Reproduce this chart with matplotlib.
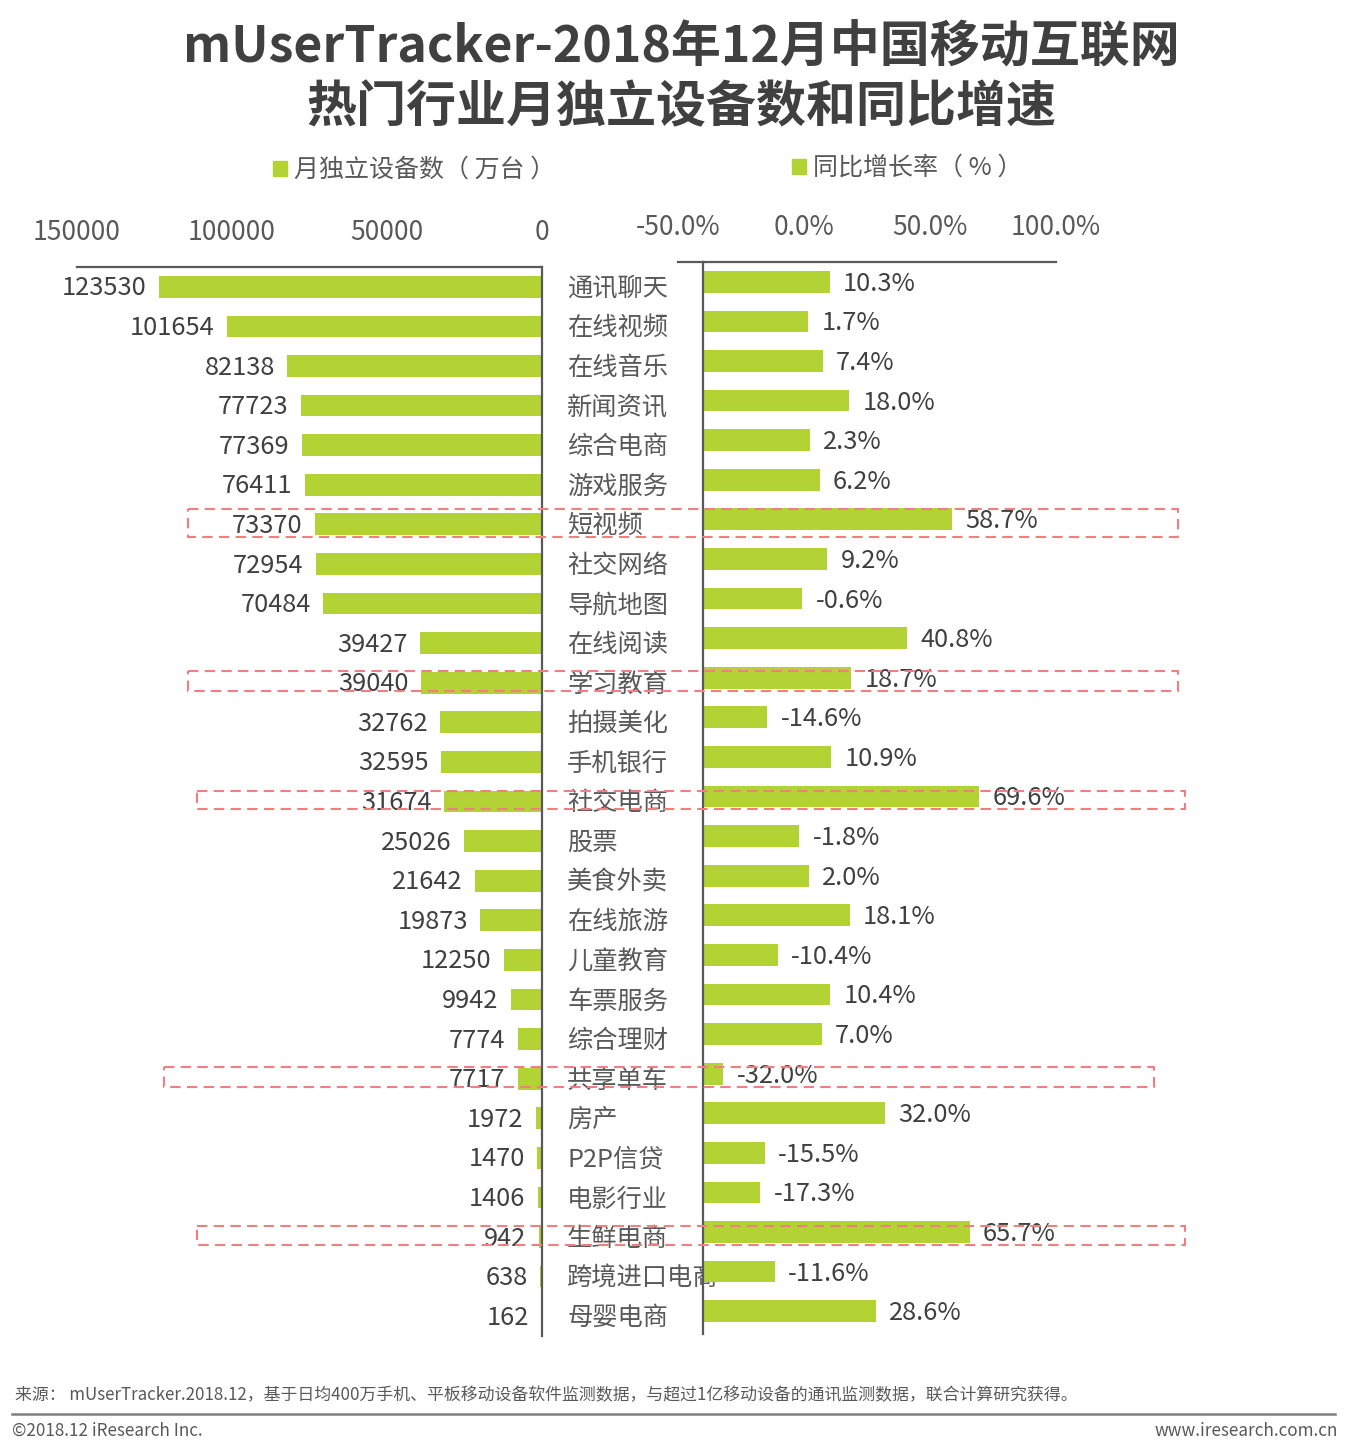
import matplotlib
matplotlib.use("Agg")
import matplotlib.pyplot as plt
import matplotlib.transforms as mtransforms
from matplotlib.patches import Patch, Rectangle

plt.rcParams["font.family"] = ["Noto Sans CJK SC", "DejaVu Sans"]

categories = ["通讯聊天", "在线视频", "在线音乐", "新闻资讯", "综合电商", "游戏服务", "短视频",
              "社交网络", "导航地图", "在线阅读", "学习教育", "拍摄美化", "手机银行", "社交电商",
              "股票", "美食外卖", "在线旅游", "儿童教育", "车票服务", "综合理财", "共享单车",
              "房产", "P2P信贷", "电影行业", "生鲜电商", "跨境进口电商", "母婴电商"]
devices = [123530, 101654, 82138, 77723, 77369, 76411, 73370, 72954, 70484, 39427, 39040,
           32762, 32595, 31674, 25026, 21642, 19873, 12250, 9942, 7774, 7717, 1972, 1470,
           1406, 942, 638, 162]
growth = [10.3, 1.7, 7.4, 18.0, 2.3, 6.2, 58.7, 9.2, -0.6, 40.8, 18.7, -14.6, 10.9, 69.6,
          -1.8, 2.0, 18.1, -10.4, 10.4, 7.0, -32.0, 32.0, -15.5, -17.3, 65.7, -11.6, 28.6]

left_ticks = [150000, 100000, 50000, 0]
right_ticks = [-50, 0, 50, 100]
growth_base = -40  # bars on the right start from here

# highlighted rows: (category, x0, x1 in figure px, box height in rows)
highlights = [("短视频", 188, 1178, 0.70), ("学习教育", 188, 1178, 0.52),
              ("社交电商", 197, 1185, 0.47), ("共享单车", 164, 1154, 0.50),
              ("生鲜电商", 197, 1185, 0.48)]

GREEN = "#B3D234"
DARK = "#404040"
GRAY = "#595959"
W, H = 1350, 1452

fig = plt.figure(figsize=(W / 100, H / 100), dpi=100)


def px_box(x0, x1, top, bottom):
    return [x0 / W, 1 - bottom / H, (x1 - x0) / W, (bottom - top) / H]


ax_l = fig.add_axes(px_box(77, 542, 267, 1336))
ax_r = fig.add_axes(px_box(678, 1056, 262, 1331))

y = list(range(len(categories)))

# left: device counts
ax_l.barh(y, devices, height=0.55, color=GREEN)
ax_l.set_xlim(150000, 0)
ax_l.set_ylim(len(categories) - 0.5, -0.5)
for yi, v in zip(y, devices):
    ax_l.annotate(f"{v}", (v, yi + 0.04), xytext=(-9, 0), textcoords="offset points",
                  ha="right", va="center", fontsize=18.3, color=DARK)

lab_tr = mtransforms.blended_transform_factory(ax_l.transAxes, ax_l.transData)
for yi, c in zip(y, categories):
    ax_l.text(1.054, yi + 0.05, c, transform=lab_tr, ha="left", va="center",
              fontsize=18.2, color=GRAY, clip_on=False)

# right: growth rate
ax_r.barh(y, [g - growth_base for g in growth], left=growth_base, height=0.55, color=GREEN)
ax_r.set_xlim(-50, 100)
ax_r.set_ylim(len(categories) - 0.5, -0.5)
ax_r.axvline(growth_base, color=GRAY, lw=1.6, ymin=-0.003, clip_on=False)
for yi, g in zip(y, growth):
    ax_r.annotate(f"{g:.1f}%", (g, yi + 0.05), xytext=(9.5, 0), textcoords="offset points",
                  ha="left", va="center", fontsize=18.3, color=DARK)

for ax, ticks, fmt in [(ax_l, left_ticks, "{:d}"), (ax_r, right_ticks, "{:.1f}%")]:
    ax.xaxis.tick_top()
    ax.set_xticks(ticks)
    ax.set_xticklabels([fmt.format(t) for t in ticks])
    ax.tick_params(axis="x", length=0, pad=15, labelsize=19, labelcolor=GRAY)
    ax.set_yticks([])
    for s in ["left", "right", "bottom"]:
        ax.spines[s].set_visible(False)
    ax.spines["top"].set_color(GRAY)
    ax.spines["top"].set_linewidth(1.6)
    ax.patch.set_alpha(0)
ax_l.spines["right"].set_visible(True)
ax_l.spines["right"].set_color(GRAY)
ax_l.spines["right"].set_linewidth(1.6)

# legends
ax_l.legend(handles=[Patch(color=GREEN, label="月独立设备数（ 万台 ）")], loc="center left",
            bbox_to_anchor=(273 / W, 1 - 170 / H), bbox_transform=fig.transFigure,
            frameon=False, fontsize=18, labelcolor=GRAY, handlelength=0.55,
            handleheight=0.55, handletextpad=0.3, borderpad=0, borderaxespad=0)
ax_r.legend(handles=[Patch(color=GREEN, label="同比增长率（ % ）")], loc="center left",
            bbox_to_anchor=(792 / W, 1 - 168 / H), bbox_transform=fig.transFigure,
            frameon=False, fontsize=18, labelcolor=GRAY, handlelength=0.55,
            handleheight=0.55, handletextpad=0.3, borderpad=0, borderaxespad=0)

# dashed highlight boxes
box_tr = mtransforms.blended_transform_factory(fig.transFigure, ax_l.transData)
for name, x0, x1, hgt in highlights:
    yi = categories.index(name)
    rect = Rectangle((x0 / W, yi - hgt / 2 - 0.04), (x1 - x0) / W, hgt, transform=box_tr,
                     fill=False, edgecolor="#EF7F82", lw=1.5, linestyle=(0, (5, 3)),
                     clip_on=False, zorder=5)
    fig.add_artist(rect)

# title
fig.text(0.505, 1 - 48 / H, "mUserTracker-2018年12月中国移动互联网", ha="center", va="center",
         fontsize=36, fontweight="bold", color=DARK)
fig.text(0.505, 1 - 108 / H, "热门行业月独立设备数和同比增速", ha="center", va="center",
         fontsize=36, fontweight="bold", color=DARK)

# footer
fig.text(15 / W, 1 - 1395 / H,
         "来源： mUserTracker.2018.12，基于日均400万手机、平板移动设备软件监测数据，与超过1亿移动设备的通讯监测数据，联合计算研究获得。",
         ha="left", va="center", fontsize=12.2, color=GRAY)
fig.add_artist(plt.Line2D([12 / W, 1335 / W], [1 - 1414 / H, 1 - 1414 / H],
                          transform=fig.transFigure, color="#7F7F7F", lw=1.8))
fig.text(12 / W, 1 - 1431 / H, "©2018.12 iResearch Inc.", ha="left", va="center",
         fontsize=12.3, color=GRAY)
fig.text(1338 / W, 1 - 1431 / H, "www.iresearch.com.cn", ha="right", va="center",
         fontsize=12.3, color=GRAY)

fig.savefig("out.png", dpi=100)
